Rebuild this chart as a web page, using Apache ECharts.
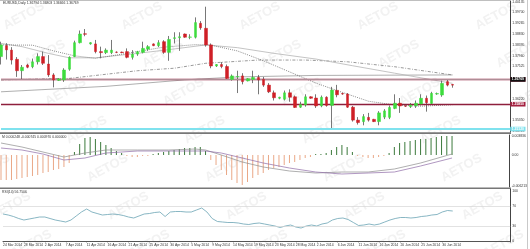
<!DOCTYPE html>
<html><head><meta charset="utf-8">
<script src="https://cdn.jsdelivr.net/npm/echarts@6/dist/echarts.min.js"></script>
<style>html,body{margin:0;padding:0;background:#fff}#c{width:530px;height:249px}</style>
</head><body><div id="c"></div>
<script>
const dates = ["24 Mar 2014","25 Mar 2014","26 Mar 2014","27 Mar 2014","28 Mar 2014","30 Mar 2014","31 Mar 2014","1 Apr 2014","2 Apr 2014","3 Apr 2014",
"4 Apr 2014","6 Apr 2014","7 Apr 2014","8 Apr 2014","9 Apr 2014","10 Apr 2014","11 Apr 2014","13 Apr 2014","14 Apr 2014","15 Apr 2014",
"16 Apr 2014","17 Apr 2014","18 Apr 2014","20 Apr 2014","21 Apr 2014","22 Apr 2014","23 Apr 2014","24 Apr 2014","25 Apr 2014","27 Apr 2014",
"28 Apr 2014","29 Apr 2014","30 Apr 2014","1 May 2014","2 May 2014","4 May 2014","5 May 2014","6 May 2014","7 May 2014","8 May 2014",
"9 May 2014","11 May 2014","12 May 2014","13 May 2014","14 May 2014","15 May 2014","16 May 2014","18 May 2014","19 May 2014","20 May 2014",
"21 May 2014","22 May 2014","23 May 2014","25 May 2014","26 May 2014","27 May 2014","28 May 2014","29 May 2014","30 May 2014","1 Jun 2014",
"2 Jun 2014","3 Jun 2014","4 Jun 2014","5 Jun 2014","6 Jun 2014","8 Jun 2014","9 Jun 2014","10 Jun 2014","11 Jun 2014","12 Jun 2014",
"13 Jun 2014","15 Jun 2014","16 Jun 2014","17 Jun 2014","18 Jun 2014","19 Jun 2014","20 Jun 2014","22 Jun 2014","23 Jun 2014","24 Jun 2014",
"25 Jun 2014","26 Jun 2014","27 Jun 2014","29 Jun 2014","30 Jun 2014","1 Jul 2014","2 Jul 2014"];

const open = [1.3792,1.3836,1.3818,1.3781,1.3735,1.3758,1.3751,1.3771,1.3792,1.3762,
1.3718,1.3696,1.3698,1.3741,1.3792,1.3848,1.3884,1.3843,1.3843,1.3812,
1.3808,1.3808,1.3810,1.3810,1.3812,1.3789,1.3802,1.3809,1.3822,1.3843,
1.3836,1.3852,1.3809,1.3865,1.3868,1.3883,1.3870,1.3870,1.3926,1.3906,
1.3839,1.3754,1.3760,1.3752,1.3700,1.3710,1.3714,1.3694,1.3700,1.3708,
1.3700,1.3677,1.3646,1.3624,1.3620,1.3646,1.3630,1.3588,1.3597,1.3630,
1.3625,1.3593,1.3628,1.3595,1.3656,1.3643,1.3641,1.3588,1.3536,1.3530,
1.3547,1.3539,1.3530,1.3548,1.3547,1.3583,1.3604,1.3593,1.3590,1.3594,
1.3601,1.3624,1.3603,1.3641,1.3637,1.3691,1.36794];
const high = [1.3852,1.3846,1.3830,1.3790,1.3758,1.3763,1.3784,1.3805,1.3812,1.3798,
1.3725,1.3705,1.3745,1.3793,1.3856,1.3897,1.3903,1.3850,1.3859,1.3832,
1.3825,1.3859,1.3813,1.3812,1.3825,1.3818,1.3815,1.3852,1.3838,1.3845,
1.3858,1.3858,1.3875,1.3890,1.3890,1.3885,1.3882,1.3950,1.3935,1.3993,
1.3845,1.3762,1.3770,1.3760,1.3720,1.3735,1.3725,1.3705,1.3735,1.3718,
1.3710,1.3685,1.3655,1.3630,1.3655,1.3660,1.3635,1.3610,1.3640,1.3632,
1.3640,1.3635,1.3632,1.3670,1.3678,1.3645,1.3645,1.3593,1.3548,1.3560,
1.3565,1.3541,1.3572,1.3580,1.3595,1.3640,1.3625,1.3596,1.3605,1.3615,
1.3640,1.3635,1.3650,1.3647,1.3695,1.3700,1.36803];
const low = [1.3760,1.3780,1.3760,1.3710,1.3698,1.3745,1.3745,1.3760,1.3758,1.3710,
1.3668,1.3694,1.3690,1.3735,1.3790,1.3845,1.3874,1.3840,1.3805,1.3785,
1.3802,1.3802,1.3806,1.3806,1.3785,1.3780,1.3795,1.3805,1.3815,1.3834,
1.3830,1.3803,1.3775,1.3845,1.3815,1.3868,1.3862,1.3865,1.3900,1.3832,
1.3745,1.3750,1.3745,1.3700,1.3695,1.3645,1.3680,1.3692,1.3685,1.3640,
1.3670,1.3645,1.3615,1.3620,1.3615,1.3610,1.3585,1.3585,1.3590,1.3622,
1.3585,1.3588,1.3590,1.3503,1.3628,1.3638,1.3585,1.3530,1.3518,1.3515,
1.3530,1.3528,1.3515,1.3540,1.3540,1.3580,1.3565,1.3589,1.3585,1.3585,
1.3595,1.3570,1.3598,1.3638,1.3630,1.3672,1.36666];
const close = [1.3839,1.3819,1.3778,1.3735,1.3749,1.3749,1.3771,1.3792,1.3765,1.3718,
1.3698,1.3702,1.3738,1.3789,1.3848,1.3883,1.3882,1.3848,1.3812,1.3808,
1.3818,1.3818,1.3809,1.3808,1.3789,1.3802,1.3812,1.3825,1.3832,1.3836,
1.3848,1.3809,1.3861,1.3868,1.3872,1.3870,1.3871,1.3929,1.3908,1.3839,
1.3754,1.3760,1.3752,1.3704,1.3714,1.3712,1.3691,1.3703,1.3708,1.3698,
1.3677,1.3650,1.3626,1.3628,1.3646,1.3628,1.3587,1.3599,1.3630,1.3624,
1.3593,1.3628,1.3595,1.3657,1.3638,1.3641,1.3588,1.3536,1.3526,1.3550,
1.3536,1.3530,1.3565,1.3573,1.3587,1.3604,1.3593,1.3592,1.3597,1.3604,
1.3624,1.3606,1.3644,1.3643,1.3684,1.3677,1.36769];

// moving averages: [bar index, price]
const maFast = [[0,1.3839],[6,1.3838],[10,1.3815],[14,1.3795],[18,1.3785],[24,1.3805],[31,1.3830],[37,1.3840],[40,1.3838],[45,1.3815],[50,1.3775],[55,1.3730],[60,1.3685],[64,1.3655],[70,1.3612],[75,1.3597],[80,1.3592],[86,1.3598]];
const maMid = [[0,1.3845],[4,1.3832],[9,1.3805],[13,1.3787],[18,1.3787],[26,1.3805],[32,1.3820],[39,1.3839],[45,1.3828],[52,1.3805],[60,1.3782],[67,1.3755],[75,1.3725],[86,1.3684]];
const maSlow = [[0,1.3698],[13,1.3704],[26,1.3735],[33,1.3745],[39,1.3765],[49,1.3778],[58,1.3778],[66,1.3771],[75,1.3751],[86,1.3718]];
const maLong = [[0,1.3650],[20,1.3672],[35,1.3698],[45,1.3710],[60,1.3716],[86,1.3718]];

const levelRes = 1.37180, levelSup = 1.35850, levelLow = 1.35120, bidPrice = 1.36769;
const priceTicks = [1.40135,1.39700,1.39265,1.38830,1.38395,1.37960,1.37525,1.36220,1.35350,1.34915];

const macdHist = [-0.0050,-0.0050,-0.0050,-0.0048,-0.0046,-0.0044,-0.0042,-0.0040,-0.0036,-0.0034,
-0.0030,-0.0028,-0.0024,-0.0016,0.0006,0.0022,0.0034,0.0036,0.0032,0.0026,
0.0020,0.0014,0.0008,0.0004,-0.0002,-0.0004,-0.0004,-0.0002,-0.0002,0.0002,
0.0004,0.0006,0.0008,0.0010,0.0012,0.0014,0.0014,0.0016,0.0016,0.0008,
-0.0010,-0.0020,-0.0030,-0.0040,-0.0050,-0.0056,-0.0060,-0.0054,-0.0046,-0.0040,
-0.0036,-0.0030,-0.0026,-0.0024,-0.0020,-0.0016,-0.0014,-0.0010,-0.0006,-0.0004,
0.0002,0.0002,0.0004,0.0010,0.0016,0.0020,0.0016,0.0006,-0.0002,-0.0004,
-0.0006,-0.0006,-0.0004,-0.0002,0.0004,0.0016,0.0024,0.0026,0.0028,0.0030,
0.0032,0.0032,0.0034,0.0036,0.0038,0.0038,0.0038];
const macdMain = [[0,0.0024],[4,0.0016],[8,0.0006],[12,-0.0004],[16,0.0004],[20,0.0010],[26,0.0010],[32,0.0010],[37,0.0012],[39,0.0010],[42,0.0000],[46,-0.0014],[50,-0.0024],[55,-0.0032],[60,-0.0036],[65,-0.0034],[70,-0.0034],[75,-0.0028],[80,-0.0016],[86,0.0002]];
const macdSignal = [[0,0.0014],[4,0.0010],[8,0.0002],[12,-0.0010],[16,-0.0006],[20,0.0004],[26,0.0008],[32,0.0008],[37,0.0008],[39,0.0008],[42,0.0004],[46,-0.0006],[50,-0.0016],[55,-0.0026],[60,-0.0034],[65,-0.0038],[70,-0.0036],[75,-0.0034],[80,-0.0022],[86,-0.0006]];
const macdTicks = [0.0038, 0, -0.0062];
const macdTickLabels = ["0.003836","0.00","-0.006213"];

const rsi = [54,52,49,45,42,44,46,48,48,45,
42,40,38,42,50,58,64,58,55,52,
53,54,53,51,48,46,50,54,55,57,
58,49,58,59,59,58,58,62,66,58,
45,39,38,37,37,36,34,33,35,36,
34,32,30,27,30,32,28,26,30,32,
30,34,36,42,45,46,43,37,31,32,
34,32,34,38,42,45,47,47,46,47,
49,50,52,53,58,61,60];
const rsiTicks = [100,70,30,0];
const rsiLevels = [70,30];

const headerMain = "EURUSD,Daily 1.36794 1.36803 1.36666 1.36769";
const headerMacd = "M 0.000248 -0.000745 0.000970 0.000000";
const headerRsi = "RSI(14) 56.7506";

// ---------------------------------------------------------------
const N = dates.length;
const PAD = 11;
const slots = dates.concat(Array.from({length: PAD}, (_, k) => 'pad' + k));
const FF = '"Liberation Sans", Arial, sans-serif';
const FS = 3.4;
const TXT = '#333';
const GL = 1, GW = 509.25;
const showIdx = (i) => i < N && i % 4 === 0;

const wickData = dates.map((d, i) => [open[i], close[i], low[i], high[i]]);
const bodyData = dates.map((d, i) => [open[i], close[i], Math.min(open[i], close[i]), Math.max(open[i], close[i])]);

function xAx(grid, bottom) {
  return {
    type: 'category', gridIndex: grid, data: slots, boundaryGap: false,
    axisLine: {show: bottom, lineStyle: {color: '#555', width: 1}},
    axisTick: {show: bottom, interval: (i) => showIdx(i), length: 1.5, lineStyle: {color: '#555', width: 0.6}},
    axisLabel: {show: bottom, interval: (i) => showIdx(i), fontSize: FS, color: TXT, fontFamily: FF, align: 'left', margin: 1.5,
      formatter: (v) => v},
    splitLine: {show: false}
  };
}
function yAx(grid, min, max, ticks, fmt) {
  return {
    type: 'value', gridIndex: grid, position: 'right', min: min, max: max,
    axisLine: {show: true, lineStyle: {color: '#444', width: 1}},
    axisTick: {show: false}, splitLine: {show: false},
    axisLabel: {customValues: ticks, formatter: fmt, fontSize: FS, color: TXT, fontFamily: FF, margin: 2}
  };
}
function lvl(value, color, width, bg, txtColor) {
  return {
    yAxis: value,
    lineStyle: {color: color, width: width, type: 'solid'},
    label: {show: true, position: 'end', distance: 0, formatter: value.toFixed(5),
      backgroundColor: bg, color: txtColor, fontSize: FS, fontFamily: FF, fontWeight: 'bold', padding: [0.8, 1.5]}
  };
}

const graphics = [];
for (let r = 0; r < 7; r++) {
  const y = 16 + r * 38;
  const x0 = 25 + 0.55 * (y - 18);
  for (let x = x0 - 236; x < 580; x += 118) {
    graphics.push({type: 'text', x: x, y: y, rotation: 0.5, z: 0, silent: true,
      style: {text: 'AETOS', fill: '#f2f2f2', font: 'bold 13px "Liberation Sans", Arial', align: 'center', verticalAlign: 'middle'}});
  }
}
graphics.push(
  {type: 'rect', z: 50, shape: {x: 0, y: 0, width: 511, height: 0.8}, style: {fill: '#aaa'}},
  {type: 'rect', z: 50, shape: {x: 0, y: 132.3, width: 511, height: 1.6}, style: {fill: '#777'}},
  {type: 'rect', z: 50, shape: {x: 0, y: 187.6, width: 511, height: 1.4}, style: {fill: '#777'}},
  {type: 'rect', z: 50, shape: {x: 527, y: 0, width: 0.8, height: 249}, style: {fill: '#bbb'}},
  {type: 'text', z: 50, x: 3, y: 3.5, style: {text: headerMain, fill: TXT, font: FS + 'px ' + FF, verticalAlign: 'middle'}},
  {type: 'text', z: 50, x: 2, y: 137.5, style: {text: headerMacd, fill: TXT, font: FS + 'px ' + FF, verticalAlign: 'middle'}},
  {type: 'text', z: 50, x: 2, y: 192, style: {text: headerRsi, fill: TXT, font: FS + 'px ' + FF, verticalAlign: 'middle'}}
);

const option = {
  animation: false,
  backgroundColor: '#fff',
  textStyle: {fontFamily: FF},
  graphic: {elements: graphics},
  grid: [
    {left: GL, top: 1, width: GW, height: 131},
    {left: GL, top: 135, width: GW, height: 52},
    {left: GL, top: 189, width: GW, height: 53}
  ],
  xAxis: [xAx(0, false), xAx(1, false), xAx(2, true)],
  yAxis: [
    yAx(0, 1.34880, 1.40160, priceTicks, (v) => v.toFixed(5)),
    yAx(1, -0.0064, 0.0040, macdTicks, (v) => macdTickLabels[macdTicks.indexOf(v)] || ''),
    yAx(2, -2, 104, rsiTicks, (v) => String(v))
  ],
  series: [
    {type: 'line', xAxisIndex: 0, yAxisIndex: 0, data: maLong, symbol: 'none', z: 3,
      lineStyle: {color: '#9a9a9a', width: 0.8}},
    {type: 'line', xAxisIndex: 0, yAxisIndex: 0, data: maSlow, symbol: 'none', z: 3,
      lineStyle: {color: '#808080', width: 0.8, type: [3, 1.5, 0.8, 1.5]}},
    {type: 'line', xAxisIndex: 0, yAxisIndex: 0, data: maMid, symbol: 'none', z: 3,
      lineStyle: {color: '#b5b5b5', width: 0.8}},
    {type: 'line', xAxisIndex: 0, yAxisIndex: 0, data: maFast, symbol: 'none', z: 3,
      lineStyle: {color: '#555', width: 0.8, type: [0.8, 1.2]}},
    {type: 'candlestick', xAxisIndex: 0, yAxisIndex: 0, data: wickData, barWidth: 0.6, clip: false, z: 4,
      itemStyle: {color: '#555', color0: '#555', borderColor: '#555', borderColor0: '#555', borderColorDoji: '#555', borderWidth: 0.8},
      markLine: {silent: true, symbol: ['none', 'none'], animation: false,
        data: [
          lvl(levelRes, '#8e1f3c', 1.4, '#a3203f', '#fff'),
          lvl(bidPrice, '#bdbdbd', 0.7, '#111', '#fff'),
          lvl(levelSup, '#8e1f3c', 1.4, '#a3203f', '#fff'),
          lvl(levelLow, '#7fe2ee', 2.2, '#7fe2ee', '#fff')
        ]}},
    {type: 'candlestick', xAxisIndex: 0, yAxisIndex: 0, data: bodyData, barWidth: 3, clip: false, z: 5,
      itemStyle: {color: '#3ddc3d', color0: '#cf1f26', borderColor: '#3ddc3d', borderColor0: '#cf1f26', borderColorDoji: '#444', borderWidth: 0.5}},
    {type: 'bar', xAxisIndex: 1, yAxisIndex: 1, data: macdHist, barWidth: 1, z: 3,
      itemStyle: {color: (p) => p.value >= 0 ? '#3c7a3c' : '#eaa887'}},
    {type: 'line', xAxisIndex: 1, yAxisIndex: 1, data: macdMain, symbol: 'none', z: 4,
      lineStyle: {color: '#8c8c8c', width: 0.7}},
    {type: 'line', xAxisIndex: 1, yAxisIndex: 1, data: macdSignal, symbol: 'none', z: 4,
      lineStyle: {color: '#8e6aa6', width: 0.7}},
    {type: 'line', xAxisIndex: 2, yAxisIndex: 2, data: rsi, symbol: 'none', z: 4,
      lineStyle: {color: '#6aa3b4', width: 0.8},
      markLine: {silent: true, symbol: ['none', 'none'], label: {show: false}, animation: false,
        lineStyle: {color: '#d6d6d6', width: 0.7, type: 'solid'},
        data: rsiLevels.map((v) => ({yAxis: v}))}}
  ]
};
const chart = echarts.init(document.getElementById('c'), null, {renderer: 'canvas'});
chart.setOption(option);
</script></body></html>
